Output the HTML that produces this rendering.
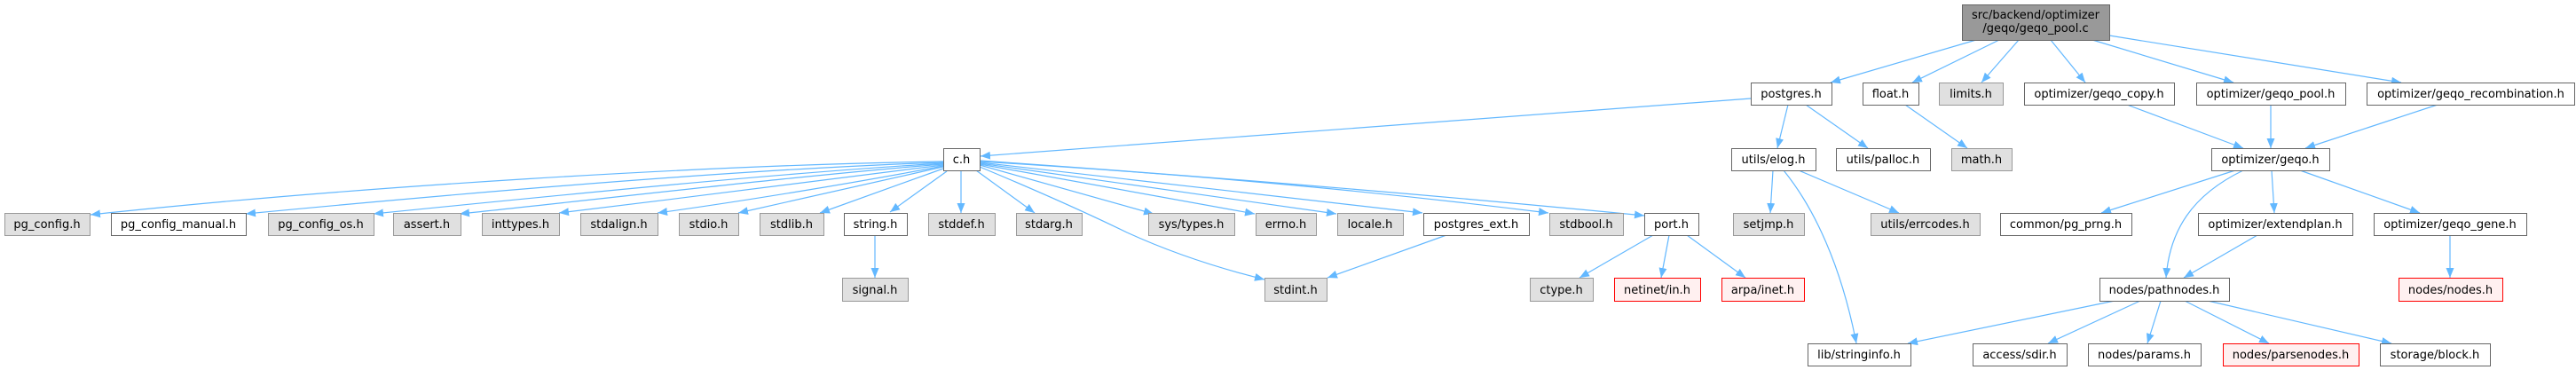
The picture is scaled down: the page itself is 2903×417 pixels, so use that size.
<!DOCTYPE html>
<html><head><meta charset="utf-8">
<style>
html,body{margin:0;padding:0;background:#fff;}
svg{display:block;}
text{font-family:"DejaVu Sans","Liberation Sans",sans-serif;font-size:13px;fill:#000;text-anchor:middle;}
.e{fill:none;stroke:#63b8ff;stroke-width:1.2;marker-end:url(#a);}
.w{fill:#fff;stroke:#666;stroke-width:1;}
.g{fill:#e0e0e0;stroke:#999;stroke-width:1;}
.r{fill:#fff0f0;stroke:#ff0000;stroke-width:1;}
</style></head>
<body>
<svg width="2903" height="417" viewBox="0 0 2903 417" xmlns="http://www.w3.org/2000/svg">
<defs>
<marker id="a" markerUnits="userSpaceOnUse" markerWidth="12" markerHeight="10" refX="11" refY="4.5" orient="auto">
<path d="M0,0 L11,4.5 L0,9 z" fill="#63b8ff"/>
</marker>
</defs>

<!-- edges -->
<path class="e" d="M2227,45 L2063,93"/>
<path class="e" d="M2253,45 L2155,93"/>
<path class="e" d="M2275,45 L2233,93"/>
<path class="e" d="M2311,45 L2350,93"/>
<path class="e" d="M2358,45 L2517,93"/>
<path class="e" d="M2377,40 L2706,93"/>

<path class="e" d="M1973,111 L1105,176"/>
<path class="e" d="M2015,118 L2003,167"/>
<path class="e" d="M2035,118 L2105,167"/>
<path class="e" d="M2147,118 L2217,167"/>
<path class="e" d="M2397,118 L2528,167"/>
<path class="e" d="M2559,118 L2559,167"/>
<path class="e" d="M2747,118 L2598,167"/>

<path class="e" d="M1998,192 L1995,240"/>
<path class="e" d="M2027,192 L2140,240"/>
<path class="e" d="M2010,192 C2045,235 2075,300 2092,387"/>
<path class="e" d="M2519,192 L2368,240"/>
<path class="e" d="M2528,192 C2470,220 2445,260 2441,313"/>
<path class="e" d="M2560,192 L2563,240"/>
<path class="e" d="M2592,192 L2727,240"/>
<path class="e" d="M2544,265 L2461,313"/>
<path class="e" d="M2761,265 L2761,313"/>

<path class="e" d="M2383,339 L2150,387"/>
<path class="e" d="M2412,339 L2308,387"/>
<path class="e" d="M2435,339 L2420,387"/>
<path class="e" d="M2462,339 L2557,387"/>
<path class="e" d="M2488,339 L2695,387"/>

<path class="e" d="M1863,265 L1780,313"/>
<path class="e" d="M1881,265 L1872,313"/>
<path class="e" d="M1901,265 L1967,313"/>
<path class="e" d="M986,265 L986,313"/>
<path class="e" d="M1630,265 L1496,313"/>

<path class="e" d="M1063,182 C800,186 400,210 102,242"/>
<path class="e" d="M1063,183 C850,190 550,215 277,241"/>
<path class="e" d="M1063,184 C880,195 650,218 421,241"/>
<path class="e" d="M1063,185 C900,198 700,222 518,241"/>
<path class="e" d="M1063,186 C950,200 780,222 630,240"/>
<path class="e" d="M1063,187 C980,203 850,225 741,240"/>
<path class="e" d="M1063,188 L832,240"/>
<path class="e" d="M1063,190 L924,240"/>
<path class="e" d="M1067,193 L1003,239"/>
<path class="e" d="M1083,192 L1083,240"/>
<path class="e" d="M1100,192 L1166,240"/>
<path class="e" d="M1104,186 L1300,241"/>
<path class="e" d="M1104,185 L1414,241"/>
<path class="e" d="M1104,184 L1506,241"/>
<path class="e" d="M1104,183 L1603,240"/>
<path class="e" d="M1104,182 C1400,200 1600,222 1745,240"/>
<path class="e" d="M1104,181 C1450,205 1700,228 1853,243"/>
<path class="e" d="M1104,188 Q1200,228 1270,262 Q1340,294 1425,315"/>

<!-- row 0 -->
<rect x="2211.5" y="5.5" width="166" height="40" fill="#999999" stroke="#666666"/>
<text x="2294" y="21">src/backend/optimizer</text>
<text x="2294" y="36">/geqo/geqo_pool.c</text>

<!-- row 1 -->
<rect class="w" x="1973.5" y="93.5" width="91" height="25"/><text x="2018.5" y="110">postgres.h</text>
<rect class="w" x="2099.5" y="93.5" width="63" height="25"/><text x="2130.5" y="110">float.h</text>
<rect class="g" x="2185.5" y="93.5" width="72" height="25"/><text x="2221" y="110">limits.h</text>
<rect class="w" x="2281.5" y="93.5" width="169" height="25"/><text x="2365.5" y="110">optimizer/geqo_copy.h</text>
<rect class="w" x="2475.5" y="93.5" width="168" height="25"/><text x="2559" y="110">optimizer/geqo_pool.h</text>
<rect class="w" x="2667.5" y="93.5" width="234" height="25"/><text x="2784.5" y="110">optimizer/geqo_recombination.h</text>

<!-- row 2 -->
<rect class="w" x="1063.5" y="167.5" width="41" height="25"/><text x="1083.5" y="184">c.h</text>
<rect class="w" x="1951.5" y="167.5" width="95" height="25"/><text x="1998.5" y="184">utils/elog.h</text>
<rect class="w" x="2069.5" y="167.5" width="106" height="25"/><text x="2122" y="184">utils/palloc.h</text>
<rect class="g" x="2199.5" y="167.5" width="68" height="25"/><text x="2233" y="184">math.h</text>
<rect class="w" x="2492.5" y="167.5" width="133" height="25"/><text x="2558.5" y="184">optimizer/geqo.h</text>

<!-- row 3 -->
<rect class="g" x="5.5" y="240.5" width="96" height="25"/><text x="53" y="257">pg_config.h</text>
<rect class="w" x="125.5" y="240.5" width="152" height="25"/><text x="201" y="257">pg_config_manual.h</text>
<rect class="g" x="302.5" y="240.5" width="119" height="25"/><text x="361.5" y="257">pg_config_os.h</text>
<rect class="g" x="443.5" y="240.5" width="76" height="25"/><text x="481" y="257">assert.h</text>
<rect class="g" x="543.5" y="240.5" width="87" height="25"/><text x="586.5" y="257">inttypes.h</text>
<rect class="g" x="654.5" y="240.5" width="87" height="25"/><text x="697.5" y="257">stdalign.h</text>
<rect class="g" x="765.5" y="240.5" width="67" height="25"/><text x="798.5" y="257">stdio.h</text>
<rect class="g" x="856.5" y="240.5" width="72" height="25"/><text x="892" y="257">stdlib.h</text>
<rect class="w" x="951.5" y="240.5" width="71" height="25"/><text x="986.5" y="257">string.h</text>
<rect class="g" x="1046.5" y="240.5" width="75" height="25"/><text x="1083.5" y="257">stddef.h</text>
<rect class="g" x="1145.5" y="240.5" width="74" height="25"/><text x="1182" y="257">stdarg.h</text>
<rect class="g" x="1294.5" y="240.5" width="97" height="25"/><text x="1342.5" y="257">sys/types.h</text>
<rect class="g" x="1415.5" y="240.5" width="68" height="25"/><text x="1449" y="257">errno.h</text>
<rect class="g" x="1507.5" y="240.5" width="74" height="25"/><text x="1544" y="257">locale.h</text>
<rect class="w" x="1604.5" y="240.5" width="119" height="25"/><text x="1663.5" y="257">postgres_ext.h</text>
<rect class="g" x="1746.5" y="240.5" width="83" height="25"/><text x="1787.5" y="257">stdbool.h</text>
<rect class="w" x="1853.5" y="240.5" width="61" height="25"/><text x="1883.5" y="257">port.h</text>
<rect class="g" x="1953.5" y="240.5" width="80" height="25"/><text x="1993" y="257">setjmp.h</text>
<rect class="g" x="2108.5" y="240.5" width="123" height="25"/><text x="2169.5" y="257">utils/errcodes.h</text>
<rect class="w" x="2254.5" y="240.5" width="148" height="25"/><text x="2328" y="257">common/pg_prng.h</text>
<rect class="w" x="2477.5" y="240.5" width="174" height="25"/><text x="2564" y="257">optimizer/extendplan.h</text>
<rect class="w" x="2675.5" y="240.5" width="172" height="25"/><text x="2761" y="257">optimizer/geqo_gene.h</text>

<!-- row 4 -->
<rect class="g" x="949.5" y="313.5" width="74" height="26"/><text x="986" y="331">signal.h</text>
<rect class="g" x="1425.5" y="313.5" width="70" height="26"/><text x="1460" y="331">stdint.h</text>
<rect class="g" x="1724.5" y="313.5" width="71" height="26"/><text x="1759.5" y="331">ctype.h</text>
<rect class="r" x="1819.5" y="313.5" width="97" height="26"/><text x="1867.5" y="331">netinet/in.h</text>
<rect class="r" x="1940.5" y="313.5" width="93" height="26"/><text x="1986.5" y="331">arpa/inet.h</text>
<rect class="w" x="2366.5" y="313.5" width="146" height="26"/><text x="2439" y="331">nodes/pathnodes.h</text>
<rect class="r" x="2703.5" y="313.5" width="117" height="26"/><text x="2761.5" y="331">nodes/nodes.h</text>

<!-- row 5 -->
<rect class="w" x="2037.5" y="387.5" width="116" height="25"/><text x="2095" y="404">lib/stringinfo.h</text>
<rect class="w" x="2223.5" y="387.5" width="106" height="25"/><text x="2276" y="404">access/sdir.h</text>
<rect class="w" x="2353.5" y="387.5" width="127" height="25"/><text x="2416.5" y="404">nodes/params.h</text>
<rect class="r" x="2505.5" y="387.5" width="153" height="25"/><text x="2581.5" y="404">nodes/parsenodes.h</text>
<rect class="w" x="2682.5" y="387.5" width="124" height="25"/><text x="2744" y="404">storage/block.h</text>
</svg>
</body></html>
